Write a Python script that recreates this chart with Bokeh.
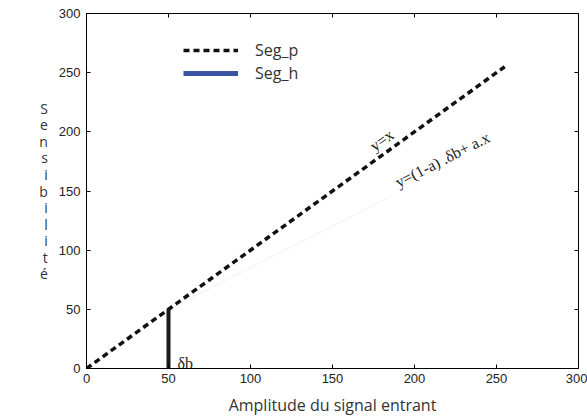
from bokeh.plotting import figure
from bokeh.models import Range1d, LinearAxis, Legend, LegendItem, FixedTicker, CustomJSTickFormatter
from bokeh.core.properties import value
from bokeh.embed import file_html
from bokeh.resources import INLINE

# ---- data ----
ticks = [0, 50, 100, 150, 200, 250, 300]
seg_p_x = [0, 255]
seg_p_y = [0, 255]
seg_h_x = [50, 50]
seg_h_y = [0, 50]
faint_x = [50, 185]
faint_y = [50, 145]
ann_text = ["y=x", "y=(1-a) .\u03b4b+ a.x"]
ann_x = [180.0, 217.0]
ann_y = [193.0, 176.5]
ann_angle = [35.8, 27.0]
db_text = ["\u03b4b"]
db_x = [55.5]
db_y = [4.0]
x_label = "Amplitude du signal entrant"
y_label = "Sensibilit\u00e9"
legend_labels = ["Seg_p", "Seg_h"]
legend_only = [float("nan")]

BLUE = "#3a54a3"

p = figure(width=587, height=418, output_backend="svg", toolbar_location=None,
           x_range=Range1d(0, 300), y_range=Range1d(0, 300),
           min_border_left=86, min_border_right=9, min_border_top=13, min_border_bottom=49)
p.background_fill_color = "white"
p.border_fill_color = "white"
p.grid.visible = False
p.outline_line_color = "black"
p.outline_line_width = 1

for ax in [p.xaxis[0], p.yaxis[0]]:
    ax.ticker = FixedTicker(ticks=ticks)
    ax.major_tick_in = 4
    ax.major_tick_out = 0
    ax.minor_tick_line_color = None
    ax.axis_line_color = "black"
    ax.major_tick_line_color = "black"
    ax.major_label_text_font = "Liberation Sans"
    ax.major_label_text_font_size = "13px"
    ax.major_label_text_color = "#222222"

p.xaxis[0].major_label_standoff = 5
p.yaxis[0].major_label_standoff = 6
p.xaxis[0].axis_label = x_label
p.xaxis[0].axis_label_text_font = "Open Sans"
p.xaxis[0].axis_label_text_font_size = "16px"
p.xaxis[0].axis_label_text_font_style = "normal"
p.xaxis[0].axis_label_text_color = "#333333"
p.xaxis[0].axis_label_standoff = 8

p.yaxis[0].axis_label = "\n".join(list(y_label))
p.yaxis[0].axis_label_orientation = "horizontal"
p.yaxis[0].axis_label_text_font = "Open Sans"
p.yaxis[0].axis_label_text_font_size = "14px"
p.yaxis[0].axis_label_text_font_style = "normal"
p.yaxis[0].axis_label_text_color = "#333333"
p.yaxis[0].axis_label_standoff = 8
p.yaxis[0].axis_label_text_line_height = 0.87

for loc in ["above", "right"]:
    ax = LinearAxis(ticker=FixedTicker(ticks=ticks), major_tick_in=4, major_tick_out=0,
                    minor_tick_line_color=None,
                    formatter=CustomJSTickFormatter(code="return ''"),
                    major_label_standoff=0, axis_line_color="black")
    p.add_layout(ax, loc)

# faint secondary line
p.line(faint_x, faint_y, line_color="#f1f1f1", line_width=1)

r_p = p.line(seg_p_x, seg_p_y, line_color="#111111", line_width=3.5, line_dash="6 4")
r_v = p.line(seg_h_x, seg_h_y, line_color="#1a1a1a", line_width=4)
r_h = p.line(x=legend_only, y=legend_only, line_color=BLUE, line_width=5)

p.text(x=ann_x, y=ann_y, text=ann_text, angle=ann_angle, angle_units="deg",
       text_font=value("Liberation Serif"), text_font_size="16px",
       text_align="center", text_baseline="middle", text_color="#222222")
p.text(x=db_x, y=db_y, text=db_text, text_font=value("Liberation Serif"),
       text_font_size="16px", text_align="left", text_baseline="alphabetic",
       text_color="#222222")

legend = Legend(items=[LegendItem(label=legend_labels[0], renderers=[r_p]),
                       LegendItem(label=legend_labels[1], renderers=[r_h])],
                location=(97, 284), orientation="vertical",
                glyph_width=55, glyph_height=20, label_height=20, spacing=1,
                padding=0, margin=0, label_standoff=17,
                label_text_font="Open Sans", label_text_font_size="16px",
                label_text_color="#333333",
                border_line_color=None, background_fill_alpha=0)
p.add_layout(legend, "center")

open("out.html", "w").write(file_html(p, INLINE))
